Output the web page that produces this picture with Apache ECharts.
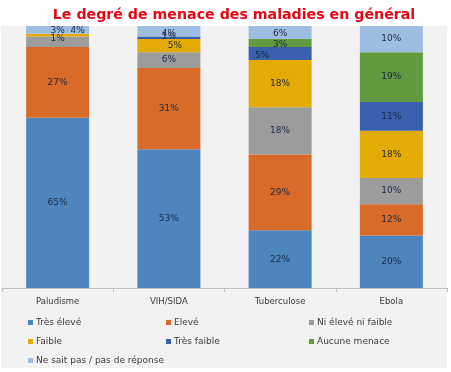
<!DOCTYPE html>
<html>
<head>
<meta charset="utf-8">
<script src="https://cdn.jsdelivr.net/npm/echarts@6/dist/echarts.min.js"></script>
<style>html,body{margin:0;padding:0;background:#fff}#c{width:451px;height:372px}</style>
</head>
<body>
<div id="c"></div>
<script>
var categories = ['Paludisme', 'VIH/SIDA', 'Tuberculose', 'Ebola'];
var seriesNames = ['Très élevé', 'Elevé', 'Ni élevé ni faible', 'Faible', 'Très faible', 'Aucune menace', 'Ne sait pas / pas de réponse'];
var tresEleve = [65, 53, 22, 20];
var eleve = [27, 31, 29, 12];
var niEleveNiFaible = [4, 6, 18, 10];
var faible = [1, 5, 18, 18];
var tresFaible = [0, 1, 5, 11];
var aucuneMenace = [0, 0, 3, 19];
var nsp = [3, 4, 6, 10];

var colors = ['#4f85bf', '#d86b2a', '#9c9c9c', '#e4ab06', '#3b60ad', '#629a3f', '#9dbde3'];
var values = [tresEleve, eleve, niEleveNiFaible, faible, tresFaible, aucuneMenace, nsp];

// per-label nudges (series index -> category index -> [dx, dy]) to mimic overlapping labels
var nudges = {
  2: {0: [20, -11]},
  3: {0: [0, 3], 1: [6, 0]},
  4: {1: [0, -1], 2: [-18, 2]},
  5: {2: [0, 2]},
  6: {0: [0, 1], 1: [0, 2], 2: [0, 1]}
};

var series = values.map(function (arr, si) {
  return {
    name: seriesNames[si],
    type: 'bar',
    stack: 'total',
    barWidth: 63,
    itemStyle: {color: colors[si]},
    data: arr.map(function (v, ci) {
      var d = {value: v};
      if (nudges[si] && nudges[si][ci]) d.label = {offset: nudges[si][ci]};
      return d;
    }),
    label: {
      show: true,
      position: 'inside',
      color: '#1b2942',
      fontFamily: 'DejaVu Sans',
      fontSize: 9,
      formatter: function (p) { return p.value ? p.value + '%' : ''; }
    }
  };
});

var legendCommon = {
  orient: 'vertical',
  icon: 'rect',
  itemWidth: 5,
  itemHeight: 5,
  itemGap: 8,
  padding: 0,
  selectedMode: false,
  textStyle: {color: '#3a3a3a', fontFamily: 'DejaVu Sans', fontSize: 9, lineHeight: 11, padding: [0, 0, 0, -2]}
};

var chart = echarts.init(document.getElementById('c'), null, {renderer: 'canvas'});
chart.setOption({
  backgroundColor: '#ffffff',
  animation: false,
  color: colors,
  graphic: [{
    type: 'rect', z: -10, silent: true,
    shape: {x: 1, y: 26, width: 446, height: 342},
    style: {fill: '#f2f2f2'}
  }],
  title: {
    text: 'Le degré de menace des maladies en général',
    left: 229, top: 3, textAlign: 'center',
    textStyle: {color: '#e30613', fontFamily: 'DejaVu Sans', fontWeight: 'bold', fontSize: 14.2}
  },
  grid: {left: 2, right: 4, top: 26, bottom: 84, containLabel: false},
  xAxis: {
    type: 'category',
    data: categories,
    axisLine: {lineStyle: {color: '#bfbfbf'}},
    axisTick: {show: true, alignWithLabel: false, length: 4, lineStyle: {color: '#bfbfbf'}},
    axisLabel: {color: '#3a3a3a', fontFamily: 'DejaVu Sans', fontSize: 8.5, margin: 9}
  },
  yAxis: {type: 'value', min: 0, max: 100, show: false, splitLine: {show: false}},
  legend: [
    Object.assign({}, legendCommon, {left: 28, top: 317, data: [seriesNames[0], seriesNames[3], seriesNames[6]]}),
    Object.assign({}, legendCommon, {left: 166, top: 317, data: [seriesNames[1], seriesNames[4]]}),
    Object.assign({}, legendCommon, {left: 309, top: 317, data: [seriesNames[2], seriesNames[5]]})
  ],
  series: series
});
</script>
</body>
</html>
